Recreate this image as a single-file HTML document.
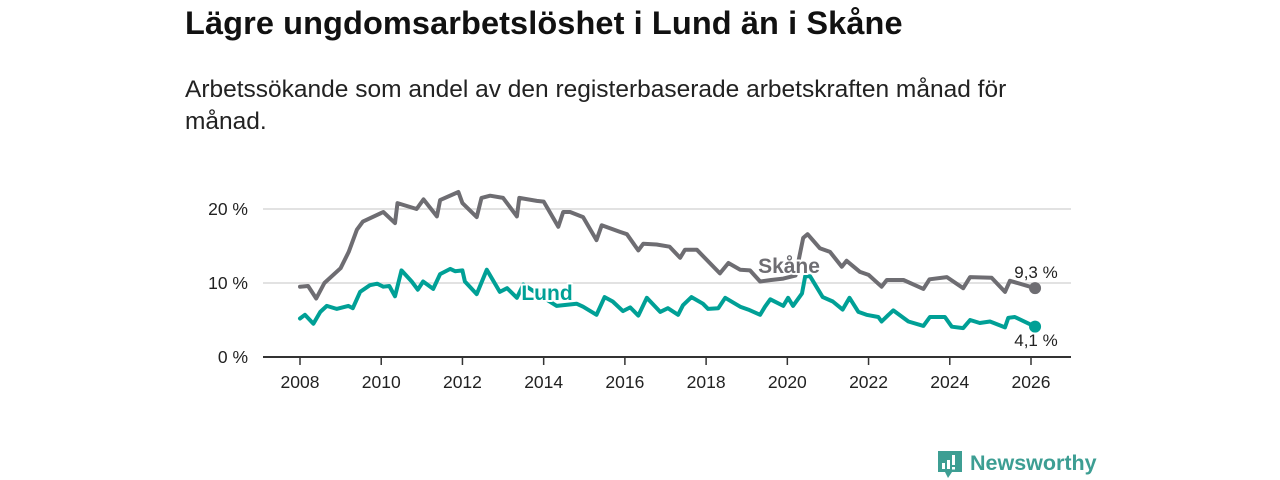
<!DOCTYPE html>
<html><head><meta charset="utf-8">
<style>
html,body{margin:0;padding:0;background:#fff;width:1280px;height:480px;overflow:hidden;font-family:"Liberation Sans",sans-serif;}
#title{position:absolute;left:185px;top:5px;font-size:32.5px;font-weight:bold;color:#111;margin:0;letter-spacing:0.1px;white-space:nowrap}
#sub{position:absolute;left:185px;top:74px;width:860px;font-size:24.5px;line-height:32px;color:#222;margin:0}
svg{position:absolute;left:0;top:0}
</style></head><body>
<h1 id="title">Lägre ungdomsarbetslöshet i Lund än i Skåne</h1>
<p id="sub">Arbetssökande som andel av den registerbaserade arbetskraften månad för månad.</p>
<svg id="chart" width="1280" height="480"></svg>
<script>
const skaneYears=[2008,2008.2,2008.4,2008.6,2009,2009.2,2009.4,2009.55,2010.05,2010.34,2010.4,2010.87,2011.04,2011.37,2011.45,2011.9,2012,2012.35,2012.47,2012.68,2013,2013.34,2013.4,2013.83,2014,2014.36,2014.48,2014.65,2014.97,2015.3,2015.43,2015.88,2016.05,2016.33,2016.45,2016.78,2017.1,2017.36,2017.48,2017.77,2018.34,2018.55,2018.84,2019.08,2019.33,2019.6,2019.9,2020.2,2020.39,2020.5,2020.8,2021.05,2021.34,2021.46,2021.79,2022,2022.32,2022.45,2022.86,2023.35,2023.5,2023.93,2024.33,2024.5,2025.03,2025.36,2025.48,2026.1];
const skaneVals=[9.5,9.6,7.9,10,12,14.2,17.2,18.3,19.6,18.1,20.8,20,21.3,19,21.2,22.3,20.8,18.9,21.5,21.8,21.5,19,21.5,21.1,21,17.6,19.6,19.6,18.9,15.8,17.8,16.9,16.6,14.4,15.3,15.2,14.9,13.4,14.5,14.5,11.3,12.7,11.8,11.7,10.2,10.4,10.6,11,16.1,16.6,14.7,14.2,12.2,13,11.5,11.1,9.5,10.4,10.4,9.2,10.5,10.8,9.3,10.8,10.7,8.8,10.3,9.3];
const lundYears=[2008,2008.12,2008.33,2008.5,2008.66,2008.9,2009.19,2009.3,2009.48,2009.72,2009.9,2010.05,2010.2,2010.34,2010.5,2010.75,2010.9,2011.03,2011.28,2011.45,2011.7,2011.82,2012,2012.06,2012.35,2012.6,2012.92,2013.1,2013.34,2013.5,2014,2014.32,2014.81,2014.97,2015.3,2015.5,2015.7,2015.95,2016.13,2016.33,2016.54,2016.87,2017.06,2017.31,2017.43,2017.64,2017.92,2018.05,2018.3,2018.47,2018.84,2019.04,2019.33,2019.45,2019.58,2019.9,2020.02,2020.14,2020.36,2020.44,2020.56,2020.87,2021.12,2021.36,2021.53,2021.75,2021.95,2022.24,2022.32,2022.49,2022.61,2022.98,2023.35,2023.51,2023.88,2024.05,2024.33,2024.5,2024.74,2024.99,2025.36,2025.44,2025.6,2026.1];
const lundVals=[5.2,5.7,4.5,6.1,6.9,6.5,6.9,6.6,8.8,9.7,9.9,9.5,9.6,8.2,11.7,10.2,9.1,10.2,9.2,11.2,11.9,11.6,11.7,10.2,8.5,11.8,8.8,9.3,8,9.8,8,6.9,7.2,6.8,5.7,8.1,7.5,6.2,6.7,5.6,8,6.1,6.6,5.7,7,8.1,7.2,6.5,6.6,8,6.8,6.4,5.7,6.8,7.8,6.9,8,6.9,8.6,10.9,10.9,8.1,7.5,6.4,8,6.1,5.7,5.4,4.8,5.7,6.3,4.8,4.2,5.4,5.4,4.1,3.9,5,4.6,4.8,4,5.3,5.4,4.1];
const yTicks=[0,10,20];
const yTickLabels=["0 %","10 %","20 %"];
const xTicks=[2008,2010,2012,2014,2016,2018,2020,2022,2024,2026];

const NS="http://www.w3.org/2000/svg";
const svg=document.getElementById('chart');
const x=v=>300+(v-2008)*(731/18);
const y=v=>357-v*7.4;
function mk(tag,attrs,parent){const e=document.createElementNS(NS,tag);for(const k in attrs)e.setAttribute(k,attrs[k]);(parent||svg).appendChild(e);return e;}

yTicks.forEach((t,i)=>{
  if(t>0){const g=mk('line',{x1:263,x2:1071,y1:y(t),y2:y(t),stroke:'#d9d9d9','stroke-width':1.5});
  
  }
  const l=mk('text',{x:248,y:y(t)+6,'text-anchor':'end','font-size':17.5,fill:'#222'});
  l.textContent=yTickLabels[i];
  
  
});
const ax=mk('line',{x1:263,x2:1071,y1:357,y2:357,stroke:'#333','stroke-width':2});


xTicks.forEach(t=>{
  const tk=mk('line',{x1:x(t),x2:x(t),y1:357,y2:365,stroke:'#333','stroke-width':1.5});
  
  
  const l=mk('text',{x:x(t),y:388,'text-anchor':'middle','font-size':17.5,fill:'#222'});
  l.textContent=t;
  
  
});
function line(xs,vs,color,name){
  const d=xs.map((v,i)=>(i?'L':'M')+x(v).toFixed(1)+','+y(vs[i]).toFixed(1)).join('');
  const p=mk('path',{d:d,fill:'none',stroke:color,'stroke-width':4,'stroke-linejoin':'round','stroke-linecap':'round'});
  
  
  const n=xs.length-1;
  const c=mk('circle',{cx:x(xs[n]),cy:y(vs[n]),r:6,fill:color});
  
  
}
line(skaneYears,skaneVals,'#6e6d72','skane');
line(lundYears,lundVals,'#00a096','lund');
function label(t,xx,yy,color,size,bold,name,halo){
  const l=mk('text',{x:xx,y:yy,'font-size':size,fill:color,'font-weight':bold?'bold':'normal','text-anchor':'middle'});
  if(halo){l.setAttribute('stroke','#fff');l.setAttribute('stroke-width',4);l.setAttribute('paint-order','stroke');l.setAttribute('stroke-linejoin','round');}
  l.textContent=t;
  
  
}
label('Skåne',789,273,'#6e6d72',21,true,'skane-label',true);
label('Lund',547,300,'#00a096',21,true,'lund-label',true);
label('9,3 %',1036,278,'#222',17,false,'skane-end-value',true);
label('4,1 %',1036,346,'#222',17,false,'lund-end-value',true);

// logo
const lg=mk('g',{});


mk('path',{d:'M938,451 h24 v21 h-10 l-4,6 l-3,-6 h-7 z',fill:'#3d9e93'},lg);
mk('rect',{x:942,y:463,width:3,height:6,fill:'#fff'},lg);
mk('rect',{x:947,y:460,width:3,height:9,fill:'#fff'},lg);
mk('rect',{x:952,y:455,width:3,height:10,fill:'#fff'},lg);
mk('rect',{x:952,y:467,width:3,height:2.5,fill:'#fff'},lg);
const lt=mk('text',{x:970,y:470,'font-size':21.5,fill:'#3d9e93','font-weight':'bold'},lg);
lt.textContent='Newsworthy';
</script>
</body></html>
